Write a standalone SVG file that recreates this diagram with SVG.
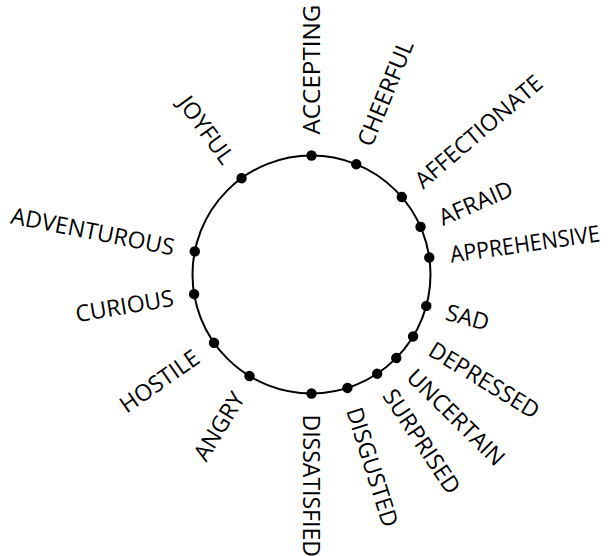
<svg xmlns="http://www.w3.org/2000/svg" width="608" height="556" viewBox="0 0 608 556">
<style>
.lbl{font-family:"Open Sans","Noto Sans","Liberation Sans",sans-serif;font-size:23px;fill:#000}
.r{text-anchor:start}
.l{text-anchor:end}
.dot{fill:#000}
</style>
<rect width="608" height="556" fill="#fff"/>
<g id="connectors">
<circle cx="311.5" cy="274.5" r="119" fill="none" stroke="#000" stroke-width="2"/>
</g>
<g id="n-accepting" transform="translate(311.5 274.5) rotate(-90)"><circle class="dot" cx="119" cy="0" r="5.2"/><text class="lbl r" x="140" y="0" dy="0.36em" textLength="130" lengthAdjust="spacingAndGlyphs">ACCEPTING</text></g>
<g id="n-cheerful" transform="translate(311.5 274.5) rotate(-67.9)"><circle class="dot" cx="119" cy="0" r="5.2"/><text class="lbl r" x="140" y="0" dy="0.36em">CHEERFUL</text></g>
<g id="n-affectionate" transform="translate(311.5 274.5) rotate(-40.6)"><circle class="dot" cx="119" cy="0" r="5.2"/><text class="lbl r" x="140" y="0" dy="0.36em">AFFECTIONATE</text></g>
<g id="n-afraid" transform="translate(311.5 274.5) rotate(-23.6)"><circle class="dot" cx="119" cy="0" r="5.2"/><text class="lbl r" x="140" y="0" dy="0.36em">AFRAID</text></g>
<g id="n-apprehensive" transform="translate(311.5 274.5) rotate(-8.2)"><circle class="dot" cx="119" cy="0" r="5.2"/><text class="lbl r" x="140" y="0" dy="0.36em" textLength="151" lengthAdjust="spacingAndGlyphs">APPREHENSIVE</text></g>
<g id="n-sad" transform="translate(311.5 274.5) rotate(15.3)"><circle class="dot" cx="119" cy="0" r="5.2"/><text class="lbl r" x="140" y="0" dy="0.36em">SAD</text></g>
<g id="n-depressed" transform="translate(311.5 274.5) rotate(31.4)"><circle class="dot" cx="119" cy="0" r="5.2"/><text class="lbl r" x="140" y="0" dy="0.36em">DEPRESSED</text></g>
<g id="n-uncertain" transform="translate(311.5 274.5) rotate(44.6)"><circle class="dot" cx="119" cy="0" r="5.2"/><text class="lbl r" x="140" y="0" dy="0.36em">UNCERTAIN</text></g>
<g id="n-surprised" transform="translate(311.5 274.5) rotate(56.5)"><circle class="dot" cx="119" cy="0" r="5.2"/><text class="lbl r" x="140" y="0" dy="0.36em">SURPRISED</text></g>
<g id="n-disgusted" transform="translate(311.5 274.5) rotate(72.4)"><circle class="dot" cx="119" cy="0" r="5.2"/><text class="lbl r" x="140" y="0" dy="0.36em">DISGUSTED</text></g>
<g id="n-dissatisfied" transform="translate(311.5 274.5) rotate(90)"><circle class="dot" cx="119" cy="0" r="5.2"/><text class="lbl r" x="140" y="0" dy="0.36em">DISSATISFIED</text></g>
<g id="n-angry" transform="translate(311.5 274.5) rotate(-58.6)"><circle class="dot" cx="-119" cy="0" r="5.2"/><text class="lbl l" x="-140" y="0" dy="0.36em">ANGRY</text></g>
<g id="n-hostile" transform="translate(311.5 274.5) rotate(-35)"><circle class="dot" cx="-119" cy="0" r="5.2"/><text class="lbl l" x="-140" y="0" dy="0.36em">HOSTILE</text></g>
<g id="n-curious" transform="translate(311.5 274.5) rotate(-9.5)"><circle class="dot" cx="-119" cy="0" r="5.2"/><text class="lbl l" x="-140" y="0" dy="0.36em">CURIOUS</text></g>
<g id="n-adventurous" transform="translate(311.5 274.5) rotate(11.2)"><circle class="dot" cx="-119" cy="0" r="5.2"/><text class="lbl l" x="-140" y="0" dy="0.36em">ADVENTUROUS</text></g>
<g id="n-joyful" transform="translate(311.5 274.5) rotate(54)"><circle class="dot" cx="-119" cy="0" r="5.2"/><text class="lbl l" x="-140" y="0" dy="0.36em">JOYFUL</text></g>
</svg>
